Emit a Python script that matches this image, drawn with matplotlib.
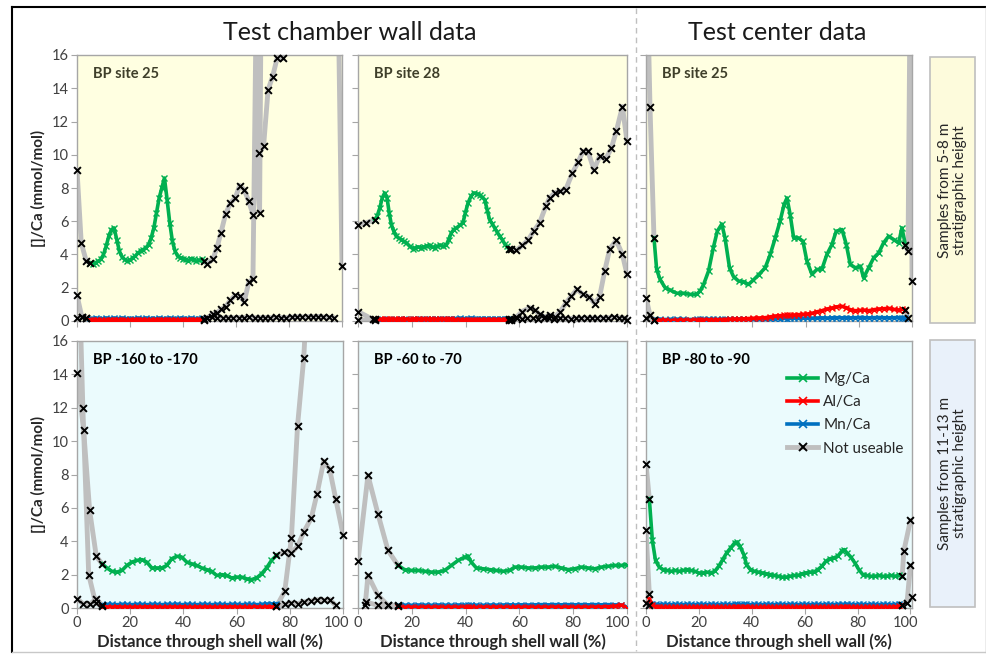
import matplotlib
matplotlib.use("Agg")
import matplotlib.pyplot as plt
import matplotlib.transforms as mtransforms
from matplotlib.lines import Line2D
from matplotlib.patches import Rectangle

plt.rcParams['font.family'] = ['Lato', 'DejaVu Sans']

# ---------------- DATA ----------------
# Top-left: BP site 25 (test chamber wall)
TL_x = [4.8, 6, 7, 8, 9, 10, 11, 12, 13, 14,
        15, 16, 17, 18, 19, 20, 21, 22, 23, 24,
        25, 26, 27, 28, 29, 30, 31, 32, 33, 34,
        35, 36, 37, 38, 39, 40, 41, 42, 43, 44,
        45, 46, 47, 48]
TL_mg = [3.5, 3.45, 3.5, 3.6, 3.7, 4.0, 4.5, 5.1, 5.5, 5.6,
         4.9, 4.2, 3.85, 3.7, 3.6, 3.65, 3.8, 3.9, 4.1, 4.2,
         4.3, 4.4, 4.6, 5.0, 5.6, 6.5, 7.4, 8.0, 8.6, 7.3,
         5.9, 4.8, 4.2, 3.9, 3.8, 3.75, 3.7, 3.6, 3.75, 3.7,
         3.6, 3.65, 3.7, 3.6]
TL_al = [0.05, 0.04, 0.06, 0.04, 0.05, 0.03, 0.05, 0.06, 0.04, 0.05,
         0.05, 0.04, 0.06, 0.05, 0.03, 0.05, 0.04, 0.05, 0.06, 0.04,
         0.05, 0.05, 0.03, 0.05, 0.06, 0.04, 0.05, 0.04, 0.05, 0.06,
         0.04, 0.05, 0.05, 0.03, 0.05, 0.06, 0.04, 0.05, 0.05, 0.04,
         0.06, 0.05, 0.04, 0.05]
TL_mn = [0.15, 0.14, 0.16, 0.15, 0.13, 0.15, 0.16, 0.14, 0.15, 0.16,
         0.14, 0.15, 0.16, 0.15, 0.14, 0.15, 0.13, 0.15, 0.16, 0.14,
         0.15, 0.16, 0.14, 0.15, 0.15, 0.14, 0.16, 0.15, 0.14, 0.15,
         0.16, 0.15, 0.14, 0.15, 0.16, 0.14, 0.15, 0.15, 0.16, 0.14,
         0.15, 0.14, 0.16, 0.15]
TL_bad = [
    ([0, 1.6, 3.5, 4.8], [9.1, 4.7, 3.6, 3.5]),
    ([0, 1.8, 3.5], [1.56, 0.26, 0.2]),
    ([0, 1.9, 3.5], [0.2, 0.22, 0.18]),
    ([48, 49, 51.2, 52.8, 54.3, 56.1, 57.9, 59.7, 61.4, 63.1, 64.8, 66.4, 68.6, 70.4,
      72.1, 73.8, 75.5, 77.7, 80, 88, 98.6, 100],
     [3.6, 3.45, 3.7, 4.4, 5.3, 6.45, 7.1, 7.4, 8.15, 7.9, 7.2, 6.4, 10.1, 10.5,
      13.9, 14.7, 15.8, 15.8, 19, 22, 19, 3.3]),
    ([48, 49, 51.2, 52.8, 54.3, 56.1, 57.9, 59.7, 61.4, 63.1, 64.8, 66.4, 67.7, 68.9, 69.5],
     [0.05, 0.16, 0.42, 0.5, 0.7, 0.86, 1.26, 1.54, 1.5, 1.16, 2.33, 2.53, 20, 6.5, 20]),
    ([48, 49, 51, 53, 55, 57, 59, 61, 63, 65, 67, 69, 71, 73, 75, 77, 79, 81, 83, 85,
      87, 89, 91, 93, 95, 97],
     [0.15, 0.2, 0.22, 0.2, 0.18, 0.2, 0.19, 0.21, 0.2, 0.22, 0.2, 0.19, 0.21, 0.2, 0.22,
      0.21, 0.2, 0.23, 0.25, 0.24, 0.26, 0.25, 0.27, 0.24, 0.22, 0.2]),
]

# Top-middle: BP site 28 (test chamber wall)
TM_x = [6.2, 7.1, 8.1, 9.0, 9.9, 10.8, 11.6, 12.4, 13.3, 14.2,
        15.1, 16.1, 17.0, 18.0, 19.2, 20.4, 21.3, 22.3, 23.3, 24.4,
        25.5, 26.6, 27.5, 28.5, 29.5, 30.4, 31.6, 32.8, 33.7, 34.7,
        35.6, 36.6, 37.8, 39.0, 39.9, 40.9, 42.0, 43.0, 44.1, 45.2,
        46.1, 47.1, 48.0, 48.9, 49.9, 50.8, 51.7, 52.7, 53.6, 54.5,
        55.3, 56.1]
TM_mg = [6.1, 6.3, 6.8, 7.4, 7.7, 7.4, 6.5, 5.8, 5.4, 5.1,
         5.0, 4.9, 4.8, 4.7, 4.5, 4.35, 4.4, 4.45, 4.4, 4.45,
         4.5, 4.55, 4.45, 4.4, 4.5, 4.55, 4.5, 4.55, 4.9, 5.3,
         5.5, 5.6, 5.75, 5.9, 6.5, 7.1, 7.5, 7.7, 7.65, 7.6,
         7.45, 7.3, 6.7, 6.1, 5.85, 5.6, 5.35, 5.1, 4.9, 4.65,
         4.5, 4.35]
TM_al = [0.1, 0.08, 0.11, 0.09, 0.12, 0.1, 0.08, 0.11, 0.1, 0.09,
         0.12, 0.1, 0.08, 0.11, 0.09, 0.1, 0.12, 0.1, 0.08, 0.11,
         0.1, 0.09, 0.12, 0.1, 0.08, 0.11, 0.1, 0.09, 0.12, 0.1,
         0.08, 0.06, 0.05, 0.04, 0.06, 0.05, 0.04, 0.05, 0.06, 0.04,
         0.05, 0.04, 0.06, 0.05, 0.04, 0.05, 0.06, 0.04, 0.05, 0.04,
         0.06, 0.05]
TM_mn = [0.08, 0.09, 0.08, 0.1, 0.09, 0.08, 0.1, 0.09, 0.08, 0.1,
         0.09, 0.1, 0.11, 0.1, 0.09, 0.11, 0.1, 0.11, 0.12, 0.11,
         0.12, 0.11, 0.12, 0.13, 0.12, 0.13, 0.14, 0.13, 0.14, 0.15,
         0.14, 0.15, 0.16, 0.15, 0.14, 0.15, 0.16, 0.15, 0.14, 0.15,
         0.14, 0.15, 0.13, 0.14, 0.13, 0.12, 0.13, 0.12, 0.13, 0.12,
         0.11, 0.12]
TM_bad = [
    ([0, 3, 6.2], [5.8, 5.9, 6.1]),
    ([0, 5.5, 6.2], [0.57, 0.1, 0.08]),
    ([0, 6.2], [0.04, 0.1]),
    ([56.1, 56.8, 58.9, 61.1, 63.2, 65.3, 67.5, 69.8, 71.2, 73.1,
      75, 77.2, 79.7, 81.8, 83.6, 85.5, 87.7, 89.8, 92.1, 94.2,
      96, 98.3, 100],
     [4.35, 4.35, 4.25, 4.55, 4.86, 5.4, 5.9, 6.9, 7.4, 7.7,
      7.8, 7.9, 8.9, 9.55, 10.2, 10.2, 9.1, 9.9, 9.75, 10.4,
      11.4, 12.9, 10.8]),
    ([56.1, 56.8, 58.9, 61, 63.8, 65.7, 67.5, 69.4, 71.3, 73.1,
      75.2, 77.4, 79.3, 81.4, 83.6, 85.9, 88, 89.8, 91.7, 93.6,
      96, 98.3, 100],
     [0.08, 0.04, 0.24, 0.57, 0.8, 0.65, 0.4, 0.24, 0.36, 0.24,
      0.57, 1.1, 1.5, 1.9, 1.6, 1.45, 1.05, 1.45, 3.0, 4.35,
      4.85, 4.0, 2.8]),
    ([56.1, 57, 59, 61, 63, 65, 67, 69, 71, 73,
      75, 77, 79, 81, 83, 85, 87, 89, 91, 93,
      95, 97, 99, 100],
     [0.12, 0.15, 0.16, 0.15, 0.17, 0.16, 0.15, 0.17, 0.16, 0.15,
      0.17, 0.16, 0.15, 0.17, 0.16, 0.18, 0.17, 0.16, 0.18, 0.2,
      0.22, 0.2, 0.18, 0.05]),
]

# Top-right: BP site 25 (test center)
TR_x = [3.0, 4.0, 5.3, 7.2, 9.0, 11.5, 14, 16.6, 19, 20.3,
        21.6, 23.5, 25.3, 26.8, 28.5, 29.7, 31.4, 32.9, 34.8, 36.6,
        38.5, 40.4, 42.3, 44.8, 46.7, 48.6, 50.4, 51.9, 53, 54.2,
        55.5, 57.3, 59, 60.5, 62.4, 64.2, 66.1, 68, 69.9, 71.5,
        73.7, 75.3, 76.8, 78.7, 80.6, 81.8, 83.7, 85.6, 87.5, 89.3,
        91.2, 93.1, 95, 96.2, 97.5]
TR_mg = [5.0, 3.1, 2.5, 2.0, 1.87, 1.67, 1.67, 1.6, 1.6, 1.8,
         2.17, 3.0, 4.4, 5.4, 5.83, 5.0, 3.2, 2.67, 2.4, 2.37,
         2.2, 2.47, 2.77, 3.2, 4.0, 5.0, 6.0, 7.0, 7.4, 6.4,
         5.0, 5.0, 4.8, 3.6, 2.8, 3.1, 3.1, 4.0, 4.6, 5.4,
         5.5, 4.6, 3.4, 3.2, 3.3, 2.6, 3.2, 3.8, 4.1, 4.7,
         5.1, 4.9, 4.7, 5.6, 4.6]
TR_al = [0.05, 0.03, 0.04, 0.05, 0.03, 0.04, 0.05, 0.04, 0.06, 0.05,
         0.06, 0.07, 0.06, 0.08, 0.07, 0.09, 0.1, 0.12, 0.11, 0.13,
         0.15, 0.16, 0.18, 0.2, 0.25, 0.3, 0.32, 0.34, 0.36, 0.35,
         0.36, 0.38, 0.4, 0.42, 0.46, 0.55, 0.62, 0.72, 0.78, 0.85,
         0.88, 0.8, 0.68, 0.62, 0.64, 0.66, 0.62, 0.68, 0.72, 0.74,
         0.76, 0.7, 0.66, 0.72, 0.66]
TR_mn = [0.08, 0.09, 0.1, 0.09, 0.1, 0.11, 0.1, 0.09, 0.1, 0.11,
         0.1, 0.11, 0.12, 0.1, 0.11, 0.12, 0.11, 0.12, 0.13, 0.12,
         0.13, 0.14, 0.13, 0.14, 0.15, 0.14, 0.15, 0.16, 0.15, 0.16,
         0.17, 0.16, 0.17, 0.18, 0.17, 0.18, 0.19, 0.18, 0.19, 0.2,
         0.19, 0.2, 0.19, 0.2, 0.21, 0.2, 0.19, 0.2, 0.21, 0.2,
         0.19, 0.2, 0.21, 0.2, 0.19]
TR_bad = [
    ([0, 1.5, 3.0], [24, 12.9, 5.0]),
    ([0, 1.5, 3.0], [1.4, 0.36, 0.05]),
    ([0, 3.0], [0.16, 0.08]),
    ([97.5, 98.5, 99.5, 100], [4.6, 4.2, 24, 2.4]),
    ([97.5, 98.5], [0.66, 0.16]),
]

# Bottom-left: BP -160 to -170 (test chamber wall)
BL_x = [9.4, 11.25, 13.1, 15, 16.9, 18.75, 20.6, 22.5, 24.4, 26.25,
        28.1, 30, 31.9, 33.75, 35.6, 37.5, 39.4, 41.25, 43.1, 45,
        46.9, 48.75, 50.6, 52.5, 54.4, 56.25, 58.1, 60, 61.9, 63.75,
        65.6, 67.5, 69.4, 71.25, 73.1, 75]
BL_mg = [2.65, 2.4, 2.2, 2.15, 2.25, 2.55, 2.75, 2.85, 2.9, 2.75,
         2.4, 2.4, 2.4, 2.55, 2.95, 3.1, 3.05, 2.75, 2.65, 2.55,
         2.4, 2.3, 2.2, 1.95, 2.0, 1.95, 1.8, 1.85, 1.85, 1.75,
         1.7, 1.8, 2.05, 2.4, 2.85, 3.15]
BL_al = [0.08, 0.06, 0.05, 0.07, 0.05, 0.06, 0.04, 0.06, 0.05, 0.07,
         0.05, 0.06, 0.04, 0.05, 0.06, 0.05, 0.07, 0.05, 0.04, 0.06,
         0.05, 0.06, 0.05, 0.04, 0.06, 0.05, 0.07, 0.05, 0.06, 0.04,
         0.05, 0.06, 0.05, 0.07, 0.06, 0.08]
BL_mn = [0.2, 0.22, 0.21, 0.2, 0.22, 0.21, 0.2, 0.22, 0.21, 0.2,
         0.22, 0.21, 0.2, 0.22, 0.21, 0.23, 0.2, 0.22, 0.21, 0.2,
         0.22, 0.21, 0.2, 0.22, 0.21, 0.2, 0.22, 0.21, 0.2, 0.22,
         0.21, 0.2, 0.22, 0.24, 0.25, 0.26]
BL_bad = [
    ([0, 2.5, 4.75, 7.25, 9.4], [14.1, 10.65, 5.85, 3.1, 2.65]),
    ([0.8, 2.2, 4.4, 7.0, 9.4], [20, 12.0, 2.0, 0.3, 0.1]),
    ([0, 2.2, 4.75, 7.25, 9.4], [0.56, 0.26, 0.22, 0.56, 0.16]),
    ([75, 78, 80.6, 82.9, 85.25, 88.1, 90.25, 92.75, 95, 97.25, 100],
     [3.15, 3.35, 3.3, 3.7, 4.55, 5.4, 6.85, 8.8, 8.3, 6.55, 4.4]),
    ([75, 78.1, 80.6, 82.9, 85.25, 87.5], [0.1, 1.0, 4.2, 10.9, 15.0, 22]),
    ([75, 78.1, 80.6, 82.9, 85.25, 88.1, 90.25, 92.75, 95, 97.25],
     [0.1, 0.22, 0.3, 0.26, 0.36, 0.42, 0.5, 0.46, 0.5, 0.16]),
]

# Bottom-middle: BP -60 to -70 (test chamber wall)
BM_x = [14.9, 17.3, 19.8, 22.3, 24.8, 27.3, 29.7, 32.2, 34.7, 37.2,
        39.7, 40.9, 42.1, 44, 46.5, 48.9, 51.4, 53.9, 56.4, 58.2,
        60.7, 63.2, 65.7, 68.2, 70.6, 73.1, 75.6, 78.1, 80.5, 83,
        85.5, 88, 90.5, 92.9, 95.4, 97.9, 100]
BM_mg = [2.55, 2.3, 2.25, 2.25, 2.2, 2.15, 2.15, 2.25, 2.55, 2.85,
         3.05, 3.1, 2.75, 2.4, 2.35, 2.3, 2.25, 2.2, 2.25, 2.45,
         2.45, 2.4, 2.4, 2.45, 2.45, 2.5, 2.4, 2.3, 2.35, 2.45,
         2.4, 2.35, 2.45, 2.5, 2.55, 2.55, 2.6]
BM_al = [0.05, 0.04, 0.05, 0.03, 0.05, 0.04, 0.05, 0.03, 0.05, 0.04,
         0.05, 0.04, 0.05, 0.03, 0.05, 0.04, 0.05, 0.04, 0.03, 0.05,
         0.04, 0.05, 0.03, 0.05, 0.04, 0.05, 0.04, 0.05, 0.03, 0.05,
         0.04, 0.05, 0.06, 0.08, 0.1, 0.18, 0.02]
BM_mn = [0.16, 0.17, 0.16, 0.18, 0.17, 0.16, 0.18, 0.17, 0.16, 0.18,
         0.17, 0.16, 0.18, 0.17, 0.16, 0.18, 0.17, 0.18, 0.19, 0.18,
         0.19, 0.18, 0.19, 0.2, 0.19, 0.2, 0.19, 0.2, 0.19, 0.2,
         0.19, 0.2, 0.19, 0.2, 0.19, 0.18, 0.04]
BM_bad = [
    ([0, 3.7, 7.4, 11.15, 14.9], [2.8, 7.95, 5.65, 3.45, 2.55]),
    ([2.7, 3.7, 7.4, 11.15, 14.9], [0.2, 1.96, 0.76, 0.16, 0.1]),
    ([2.9, 7.4, 11.15, 14.9], [0.36, 0.16, 0.16, 0.16]),
]

# Bottom-right: BP -80 to -90 (test center)
BR_x = [1.25, 2.4, 3.6, 5, 6.5, 8, 9.5, 11, 12.5, 14,
        15.5, 17, 18.5, 20, 21.5, 23, 24.5, 26, 27.5, 29,
        30.5, 32, 33.5, 34.5, 35.5, 37, 38, 39.5, 41, 42.5,
        44, 45.5, 47, 48.5, 50, 51.5, 53, 54.5, 56, 57.5,
        59, 60.5, 62, 63.5, 65, 66.5, 68, 69.5, 71, 72.5,
        74, 75, 76, 77.5, 79, 80.5, 82, 83.5, 85, 86.5,
        88, 89.5, 91, 92.5, 94, 95.5, 96.9]
BR_mg = [6.55, 4.05, 2.85, 2.45, 2.3, 2.25, 2.2, 2.25, 2.2, 2.25,
         2.3, 2.25, 2.2, 2.1, 2.1, 2.15, 2.1, 2.2, 2.5, 2.9,
         3.3, 3.6, 3.9, 3.95, 3.7, 3.2, 2.6, 2.3, 2.2, 2.15,
         2.1, 2.05, 2.0, 1.95, 1.9, 1.85, 1.85, 1.9, 1.95, 1.95,
         2.05, 2.1, 2.15, 2.15, 2.3, 2.5, 2.8, 2.95, 3.0, 3.1,
         3.4, 3.5, 3.3, 3.05, 2.7, 2.3, 2.0, 1.95, 1.9, 1.9,
         1.95, 1.9, 1.9, 1.95, 1.9, 1.95, 1.9]
BR_al = [0.55, 0.2, 0.08, 0.05, 0.04, 0.05, 0.03, 0.05, 0.04, 0.05,
         0.04, 0.03, 0.05, 0.04, 0.05, 0.03, 0.05, 0.04, 0.05, 0.04,
         0.03, 0.05, 0.04, 0.05, 0.03, 0.05, 0.04, 0.05, 0.04, 0.03,
         0.05, 0.04, 0.05, 0.03, 0.05, 0.04, 0.05, 0.04, 0.03, 0.05,
         0.04, 0.05, 0.03, 0.05, 0.04, 0.05, 0.04, 0.03, 0.05, 0.04,
         0.05, 0.03, 0.05, 0.04, 0.05, 0.04, 0.03, 0.05, 0.04, 0.05,
         0.03, 0.05, 0.04, 0.05, 0.06, 0.09, 0.15]
BR_mn = [0.2, 0.22, 0.21, 0.2, 0.22, 0.21, 0.2, 0.22, 0.21, 0.2,
         0.22, 0.21, 0.2, 0.22, 0.21, 0.2, 0.22, 0.21, 0.2, 0.22,
         0.21, 0.2, 0.22, 0.21, 0.2, 0.22, 0.21, 0.2, 0.22, 0.21,
         0.2, 0.22, 0.21, 0.2, 0.22, 0.21, 0.2, 0.22, 0.21, 0.2,
         0.22, 0.21, 0.2, 0.22, 0.21, 0.2, 0.22, 0.21, 0.2, 0.22,
         0.21, 0.2, 0.22, 0.21, 0.2, 0.22, 0.21, 0.2, 0.22, 0.21,
         0.2, 0.22, 0.21, 0.2, 0.22, 0.21, 0.2]
BR_bad = [
    ([0, 1.25], [8.65, 6.55]),
    ([0, 1.25], [4.65, 0.86]),
    ([0, 1.25], [0.3, 0.16]),
    ([96.9, 97.5, 100], [1.9, 3.4, 5.25]),
    ([96.9, 98.7, 100], [0.15, 0.3, 2.55]),
    ([96.9, 100.6], [0.2, 0.66]),
]

PANEL_LABELS = ["BP site 25", "BP site 28", "BP site 25",
                "BP -160 to -170", "BP -60 to -70", "BP -80 to -90"]
SERIES_NAMES = ["Mg/Ca", "Al/Ca", "Mn/Ca", "Not useable"]
X_TICKS = [0, 20, 40, 60, 80, 100]
Y_TICKS = [0, 2, 4, 6, 8, 10, 12, 14, 16]

# ---------------- STYLE ----------------
GREEN = '#00B050'
RED = '#FF0000'
BLUE = '#0070C0'
GREY = '#BFBFBF'
TOP_FACE = '#FFFFE1'
BOT_FACE = '#EBFBFD'
SPINE = '#A6A6A6'

W, H = 987, 656
fig = plt.figure(figsize=(W / 100, H / 100), dpi=100)


def fx(px):
    return px / W


def fy(py):
    return 1 - py / H


def axes_at(l, t, r, b):
    return fig.add_axes([fx(l), fy(b), fx(r) - fx(l), fy(t) - fy(b)])


def trim(xs, ys):
    n = min(len(xs), len(ys))
    return xs[:n], ys[:n]


def draw_panel(ax, x, mg, al, mn, bad, face, label, labelcolor, xmax,
               ylab, xlab, last_shift=0):
    ax.set_facecolor(face)
    for bx, by in bad:
        bx, by = trim(bx, by)
        ax.plot(bx, by, color=GREY, lw=3.5, solid_capstyle='round',
                solid_joinstyle='round', zorder=2)
    for ys, c in ((mn, BLUE), (al, RED), (mg, GREEN)):
        xs, ys = trim(x, ys)
        ax.plot(xs, ys, color=c, lw=2.6, marker='x', ms=3.8, mew=1.0,
                zorder=3)
    for bx, by in bad:
        bx, by = trim(bx, by)
        pts = [(a, b) for a, b in zip(bx, by) if 0 <= b <= 16]
        if pts:
            ax.scatter([p[0] for p in pts], [p[1] for p in pts], marker='x',
                       s=24, color='black', linewidths=1.4, zorder=5,
                       clip_on=False)
    ax.set_xlim(0, xmax)
    ax.set_ylim(0, 16)
    ax.set_xticks(X_TICKS)
    ax.set_yticks(Y_TICKS)
    for s in ax.spines.values():
        s.set_color(SPINE)
        s.set_linewidth(1.0)
    ax.tick_params(direction='out', length=4, color=SPINE, labelsize=10.5,
                   labelcolor='#404040', pad=2)
    if not ylab:
        ax.set_yticklabels([])
    else:
        ax.set_ylabel("[]/Ca (mmol/mol)", fontsize=11, fontweight='bold',
                      color='#262626', labelpad=4)
    if not xlab:
        ax.set_xticklabels([])
    else:
        ax.set_xlabel("Distance through shell wall (%)", fontsize=12,
                      fontweight='bold', color='#262626', labelpad=2)
        if last_shift:
            lbl = ax.get_xticklabels()[-1]
            lbl.set_transform(lbl.get_transform() + mtransforms.ScaledTranslation(
                -last_shift / 100, 0, fig.dpi_scale_trans))
    ax.text(0.06, 0.955, label, transform=ax.transAxes, fontsize=10.5,
            fontweight='bold', color=labelcolor, va='top', ha='left',
            zorder=6)


ax_tl = axes_at(77, 55, 342, 321)
ax_tm = axes_at(358, 55, 627, 321)
ax_tr = axes_at(646, 55, 912, 321)
ax_bl = axes_at(77, 341, 343, 608)
ax_bm = axes_at(358, 341, 627, 608)
ax_br = axes_at(646, 341, 912, 608)

TOP_LC = '#3F3F2A'
draw_panel(ax_tl, TL_x, TL_mg, TL_al, TL_mn, TL_bad, TOP_FACE, PANEL_LABELS[0],
           TOP_LC, 100, True, False)
draw_panel(ax_tm, TM_x, TM_mg, TM_al, TM_mn, TM_bad, TOP_FACE, PANEL_LABELS[1],
           TOP_LC, 100, False, False)
draw_panel(ax_tr, TR_x, TR_mg, TR_al, TR_mn, TR_bad, TOP_FACE, PANEL_LABELS[2],
           TOP_LC, 100, False, False)
draw_panel(ax_bl, BL_x, BL_mg, BL_al, BL_mn, BL_bad, BOT_FACE, PANEL_LABELS[3],
           'black', 100, True, True, last_shift=6)
draw_panel(ax_bm, BM_x, BM_mg, BM_al, BM_mn, BM_bad, BOT_FACE, PANEL_LABELS[4],
           'black', 100, False, True, last_shift=9)
draw_panel(ax_br, BR_x, BR_mg, BR_al, BR_mn, BR_bad, BOT_FACE, PANEL_LABELS[5],
           'black', 100.6, False, True, last_shift=5)

# legend
handles = [
    Line2D([], [], color=GREEN, lw=2.6, marker='x', ms=6, mew=1.2),
    Line2D([], [], color=RED, lw=2.6, marker='x', ms=6, mew=1.2),
    Line2D([], [], color=BLUE, lw=2.6, marker='x', ms=6, mew=1.2),
    Line2D([], [], color=GREY, lw=3.5, marker='x', ms=6, mew=1.4,
           markeredgecolor='black'),
]
ax_br.legend(handles, SERIES_NAMES, loc='upper left',
             bbox_to_anchor=(0.48, 0.935), frameon=False, fontsize=11,
             handlelength=2.0, labelspacing=0.6, handletextpad=0.35,
             labelcolor='#262626')

# titles
fig.text(fx(350), fy(32), "Test chamber wall data", ha='center', va='center',
         fontsize=18, color='#1a1a1a')
fig.text(fx(777), fy(32), "Test center data", ha='center', va='center',
         fontsize=18, color='#1a1a1a')

# side boxes
for (t, b, face, txt) in ((57, 323, '#FDFBDC', "Samples from 5-8 m\nstratigraphic height"),
                          (340, 607, '#E9F1FA', "Samples from 11-13 m\nstratigraphic height")):
    fig.patches.append(Rectangle((fx(930), fy(b)), fx(975) - fx(930), fy(t) - fy(b),
                                 transform=fig.transFigure, facecolor=face,
                                 edgecolor='#BFBFBF', lw=1.2))
    fig.text(fx(952.5), (fy(t) + fy(b)) / 2, txt, rotation=90, ha='center',
             va='center', fontsize=11, color='#262626', linespacing=1.15)

# separator and frame
fig.add_artist(Line2D([fx(636), fx(636)], [fy(8), fy(651)], color='#BFBFBF',
                      lw=1.0, ls=(0, (4, 3)), transform=fig.transFigure))
fig.add_artist(Line2D([fx(12), fx(986)], [fy(7), fy(7)], color='black', lw=1.5,
                      transform=fig.transFigure))
fig.add_artist(Line2D([fx(12), fx(12)], [fy(7), fy(652)], color='black', lw=1.5,
                      transform=fig.transFigure))
fig.add_artist(Line2D([fx(986), fx(986)], [fy(7), fy(652)], color='#A0A0A0', lw=1.0,
                      transform=fig.transFigure))
fig.add_artist(Line2D([fx(12), fx(986)], [fy(652), fy(652)], color='#C8C8C8', lw=1.0,
                      transform=fig.transFigure))

fig.savefig("out.png", dpi=100)
